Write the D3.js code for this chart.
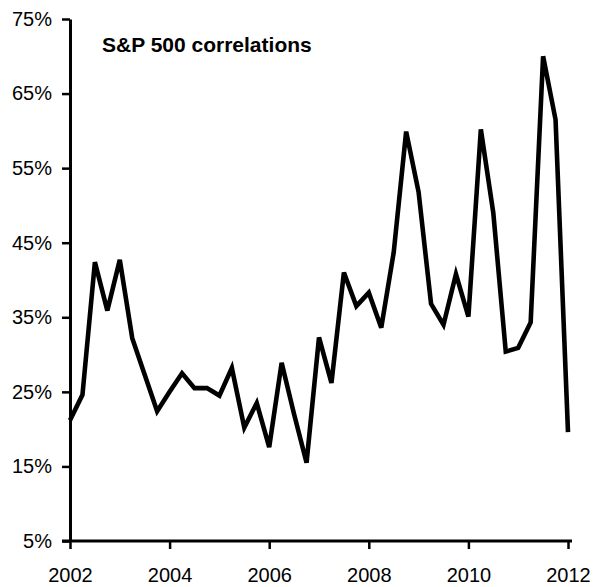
<!DOCTYPE html>
<html><head><meta charset="utf-8">
<script src="https://cdn.jsdelivr.net/npm/d3@7"></script>
<style>body{margin:0;background:#fff}svg{display:block}</style>
</head><body>
<svg id="c" width="595" height="587"></svg>
<script>
const startYear = 2002;
const values = [21.2,24.6,42.4,35.9,42.7,32.2,27.3,22.4,25.0,27.5,
  25.5,25.5,24.5,28.2,20.2,23.5,17.6,28.9,22.0,15.5,
  32.3,26.2,41.0,36.5,38.3,33.6,43.7,59.9,51.8,36.8,
  34.0,40.8,35.1,60.2,49.0,30.4,30.9,34.3,70.0,61.5,19.6];
const yTicks = [5,15,25,35,45,55,65,75];
const xTicks = [2002,2004,2006,2008,2010,2012];
const title = "S&P 500 correlations";

const svg = d3.select("#c");
const x = d3.scaleLinear().domain([2002,2012]).range([70,568]);
const y = d3.scaleLinear().domain([5,75]).range([541,19]);

const yAxis = svg.append("g").attr("transform","translate(70,0)")
  .call(d3.axisLeft(y).tickValues(yTicks).tickSize(8).tickSizeOuter(0).tickPadding(10).tickFormat(d=>d+"%"));
const xAxis = svg.append("g").attr("transform","translate(0,541)")
  .call(d3.axisBottom(x).tickValues(xTicks).tickSize(8).tickSizeOuter(0).tickPadding(19).tickFormat(d3.format("d")));
[yAxis,xAxis].forEach(g=>{
  g.selectAll("path.domain").attr("stroke","#000").attr("stroke-width",3);
  g.selectAll(".tick line").attr("stroke","#000").attr("stroke-width",2.5);
  g.selectAll(".tick text").attr("fill","#000").style("font-family","'Liberation Sans',Arial,sans-serif").style("font-size","20px");
});
xAxis.select("path.domain").attr("d","M62,0H572");

const line = d3.line().x((d,i)=>x(startYear+i*0.25)).y(d=>y(d));
svg.append("path").datum(values).attr("d",line)
  .attr("fill","none").attr("stroke","#000").attr("stroke-width",4.6).attr("stroke-linejoin","miter").attr("stroke-miterlimit",4);

svg.append("text").attr("x",102).attr("y",52).text(title)
  .style("font-family","'Liberation Sans',Arial,sans-serif").style("font-size","21px").style("font-weight","bold").attr("fill","#000");
</script>
</body></html>
